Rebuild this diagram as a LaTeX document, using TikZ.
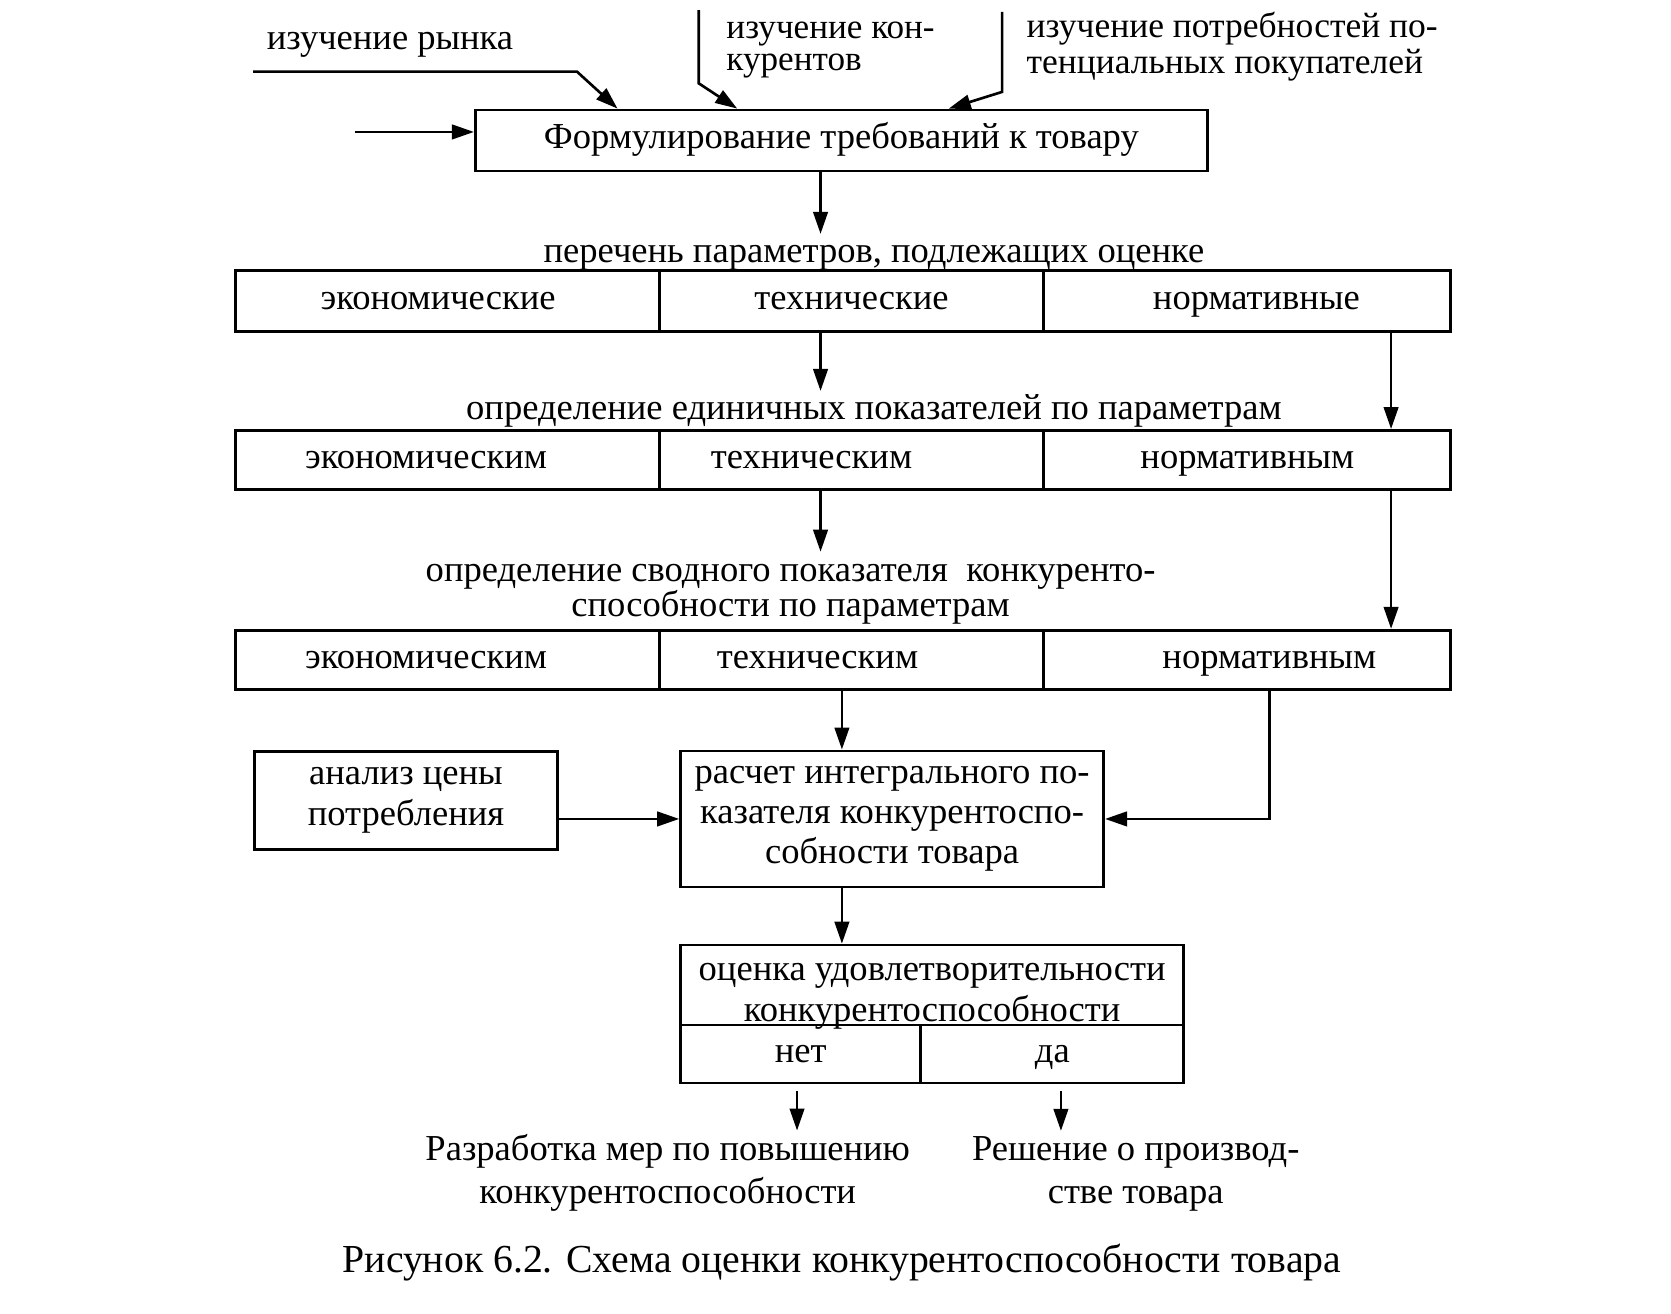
\documentclass[tikz,border=0pt]{standalone}
\usepackage{fontspec}
\setmainfont{Liberation Serif}
\usetikzlibrary{arrows.meta}
\newcommand{\txtshift}[2]{\hspace*{#1}#2\hspace*{-#1}}
\newcommand{\mystrut}{\rule[-0.22em]{0pt}{0.92em}}
\AtBeginDocument{\lineskiplimit=-20pt}
\begin{document}
\begin{tikzpicture}[x=1.0684cm, y=1.0684cm,
  txt/.style={font=\fontsize{10.4pt}{11.5pt}\selectfont, inner sep=1pt, align=center},
  stxt/.style={txt, text height=0.7em, text depth=0.22em},
  frame/.style={draw, line width=0.8pt, inner sep=0pt, font=\fontsize{10.4pt}{11.5pt}\selectfont},
  box/.style={txt, draw, line width=0.8pt, inner sep=0pt},
  cell/.style={box, text height=0.7em, text depth=0.22em},
  ln/.style={line width=0.75pt},
  arr/.style={ln, -{Triangle[length=0.22cm,width=0.145cm]}}
]
\useasboundingbox[fill=white] (0,0) rectangle (15.64,-12.29);

% top labels
\node[stxt] (TR) at (3.65,-0.38) {изучение рынка};
\node[txt, font=\fontsize{10pt}{9.2pt}\selectfont, align=left, anchor=west] (TK) at (6.76,-0.43) {\mystrut изучение кон-\\курентов\mystrut};
\node[txt, font=\fontsize{10.1pt}{10.3pt}\selectfont, align=left, anchor=west] (TP) at (9.57,-0.435) {\mystrut изучение потребностей по-\\тенциальных покупателей\mystrut};

% first box
\node[cell, minimum width=7.32cm, minimum height=0.61cm] (B1) at (7.875,-1.315) {Формулирование требований к товару};

% row 1
\node[stxt] (P1) at (8.18,-2.38) {перечень параметров, подлежащих оценке};
\node[cell, minimum width=4.24cm, minimum height=0.61cm] (R1a) at (4.185,-2.815) {\txtshift{-0.09cm}{экономические}};
\node[cell, minimum width=3.85cm, minimum height=0.61cm] (R1b) at (7.97,-2.815) {технические};
\node[cell, minimum width=4.07cm, minimum height=0.61cm] (R1c) at (11.675,-2.815) {\txtshift{0.09cm}{нормативные}};

% row 2
\node[stxt] (P2) at (8.18,-3.85) {определение единичных показателей по параметрам};
\node[cell, minimum width=4.24cm, minimum height=0.59cm] (R2a) at (4.185,-4.305) {\txtshift{-0.21cm}{экономическим}};
\node[cell, minimum width=3.85cm, minimum height=0.59cm] (R2b) at (7.97,-4.305) {\txtshift{-0.40cm}{техническим}};
\node[cell, minimum width=4.07cm, minimum height=0.59cm] (R2c) at (11.675,-4.305) {нормативным};

% row 3
\node[txt, font=\fontsize{10.4pt}{10pt}\selectfont] (P3) at (7.40,-5.525) {\mystrut определение сводного показателя\ \ конкуренто-\\способности по параметрам\mystrut};
\node[cell, minimum width=4.24cm, minimum height=0.59cm] (R3a) at (4.185,-6.175) {\txtshift{-0.21cm}{экономическим}};
\node[cell, minimum width=3.85cm, minimum height=0.59cm] (R3b) at (7.97,-6.175) {\txtshift{-0.34cm}{техническим}};
\node[cell, minimum width=4.07cm, minimum height=0.59cm] (R3c) at (11.675,-6.175) {\txtshift{0.22cm}{нормативным}};

% integral
\node[box, minimum width=3.03cm, minimum height=0.98cm] (ANA) at (3.80,-7.49) {анализ цены\\потребления};
\node[box, font=\fontsize{10.4pt}{11.35pt}\selectfont, minimum width=4.23cm, minimum height=1.36cm] (RAS) at (8.35,-7.665) {расчет интегрального по-\\казателя конкурентоспо-\\собности товара};

% evaluation
\node[frame, minimum width=5.03cm, minimum height=0.80cm] (OC) at (8.725,-9.22) {\raisebox{-4.65pt}[0pt][0pt]{\fontsize{10.4pt}{11.8pt}\selectfont\lineskiplimit=0pt\begin{tabular}{@{}c@{}}оценка удовлетворительности\\конкурентоспособности\end{tabular}}};
\node[cell, minimum width=2.40cm, minimum height=0.579cm] (NET) at (7.495,-9.865) {нет};
\node[cell, minimum width=2.63cm, minimum height=0.579cm] (DA) at (9.85,-9.865) {да};

% results
\node[txt, font=\fontsize{10.4pt}{12.1pt}\selectfont] (RAZ) at (6.25,-10.98) {\mystrut Разработка мер по повышению\\конкурентоспособности\mystrut};
\node[txt, font=\fontsize{10.4pt}{12.1pt}\selectfont] (RES) at (10.63,-10.98) {\mystrut Решение о производ-\\стве товара\mystrut};

% caption
\node[stxt, font=\fontsize{11.3pt}{13pt}\selectfont] (CAP) at (7.88,-11.83) {Рисунок 6.2. Схема оценки конкурентоспособности товара};

% coordinates
\coordinate (r0) at (2.37,-0.67);
\coordinate (r1) at (5.40,-0.67);
\coordinate (rt) at (5.78,0);
\coordinate (k0) at (6.54,-0.095);
\coordinate (k1) at (6.54,-0.78);
\coordinate (kt) at (6.90,0);
\coordinate (p0) at (9.38,-0.11);
\coordinate (p1) at (9.38,-0.86);
\coordinate (pt) at (8.88,0);
\coordinate (l0) at (3.32,-1.235);
\coordinate (ax) at (7.68,0);
\coordinate (rx) at (13.02,0);
\coordinate (bx) at (7.88,0);
\coordinate (cx) at (11.88,0);
\coordinate (nx) at (7.46,0);
\coordinate (dx) at (9.93,0);

% connectors
\draw[arr] (r0) -- (r1) -- (rt |- B1.north);
\draw[arr] (k0) -- (k1) -- (kt |- B1.north);
\draw[arr] (p0) -- (p1) -- (pt |- B1.north);
\draw[arr] (l0) -- (l0 -| B1.west);
\draw[arr] (ax |- B1.south) -- (ax |- P1.north);
\draw[arr] (ax |- R1b.south) -- (ax |- P2.north);
\draw[arr] (ax |- R2b.south) -- (ax |- P3.north);
\draw[arr] (rx |- R1c.south) -- (rx |- R2c.north);
\draw[arr] (rx |- R2c.south) -- (rx |- R3c.north);
\draw[arr] (bx |- R3b.south) -- (bx |- RAS.north);
\draw[arr] (cx |- R3c.south) |- (RAS.east);
\draw[arr] (ANA.east |- RAS.west) -- (RAS.west);
\draw[arr] (bx |- RAS.south) -- (bx |- OC.north);
\draw[arr, shorten <=2pt] (nx |- NET.south) -- (nx |- RAZ.north);
\draw[arr, shorten <=2pt] (dx |- DA.south) -- (dx |- RES.north);
\end{tikzpicture}
\end{document}
